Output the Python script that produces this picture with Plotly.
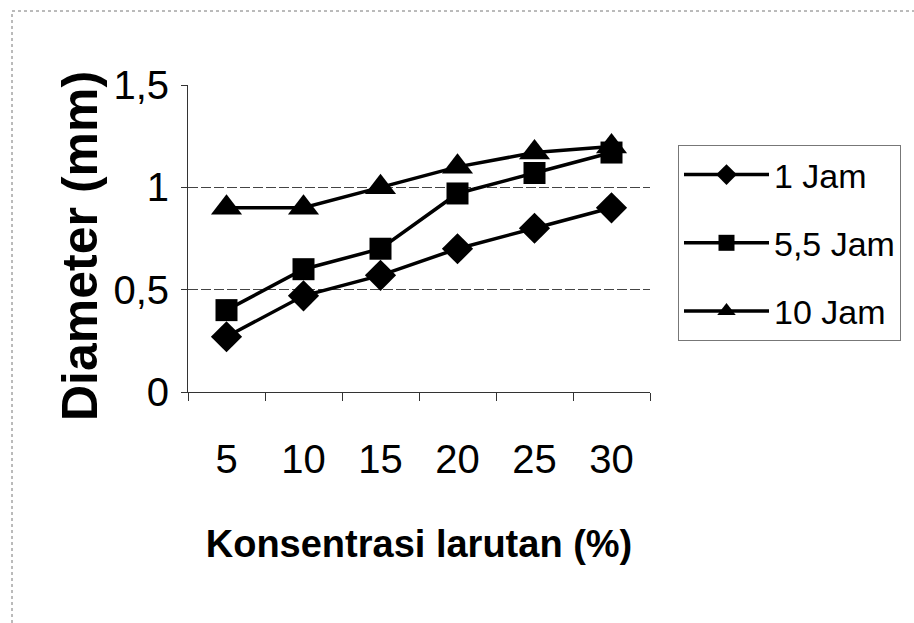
import plotly.graph_objects as go

categories = ["5", "10", "15", "20", "25", "30"]
jam1 = [0.27, 0.47, 0.57, 0.70, 0.80, 0.90]
jam55 = [0.40, 0.60, 0.70, 0.97, 1.07, 1.17]
jam10 = [0.90, 0.90, 1.00, 1.10, 1.17, 1.20]
series_names = ["1 Jam", "5,5 Jam", "10 Jam"]
y_ticks = [0, 0.5, 1, 1.5]
y_tick_labels = ["0", "0,5", "1", "1,5"]

FONT = "Liberation Sans, Arial, sans-serif"

fig = go.Figure()
specs = [(jam1, "diamond", 24), (jam55, "square", 22), (jam10, "triangle-up", 27)]
for i, ((vals, sym, sz), name) in enumerate(zip(specs, series_names)):
    fig.add_trace(go.Scatter(
        x=categories, y=vals, name=name, mode="lines+markers",
        line=dict(color="black", width=3.5),
        marker=dict(symbol=sym, size=sz, color="black"),
        legendgroup="g%d" % i,
    ))

L, R, T, B = 188, 264, 85, 231
W, H = 914, 623
pw, ph = W - L - R, H - T - B

fig.update_layout(
    width=W, height=H,
    margin=dict(l=L, r=R, t=T, b=B),
    paper_bgcolor="white", plot_bgcolor="white",
    showlegend=True,
    legend=dict(
        x=(678 - L) / pw, y=(392 - 145) / ph, xanchor="left", yanchor="top",
        font=dict(family=FONT, size=34, color="black"),
        bordercolor="#777", borderwidth=1,
        traceorder="grouped", tracegroupgap=21,
        itemwidth=85,
    ),
    xaxis=dict(
        type="category", range=[-0.5, 5.5],
        showline=True, linecolor="#333", linewidth=1,
        ticks="outside", ticklen=8, tickcolor="#333", tickson="boundaries",
        showgrid=False, zeroline=False,
        tickfont=dict(family=FONT, size=40, color="black"),
        ticklabelstandoff=32,
        title=dict(text="<b>Konsentrasi larutan (%)</b>",
                   font=dict(family=FONT, size=38, color="black"), standoff=50),
    ),
    yaxis=dict(
        range=[0, 1.5], tickvals=y_ticks, ticktext=y_tick_labels,
        showline=True, linecolor="#333", linewidth=1,
        ticks="outside", ticklen=6, tickcolor="#333",
        showgrid=True, gridcolor="#444", gridwidth=1, griddash="10px,3px",
        zeroline=False,
        tickfont=dict(family=FONT, size=40, color="black"),
        ticklabelstandoff=4,
    ),
)

# y axis title placed as annotation for precise position
fig.add_annotation(
    text="<b>Diameter (mm)</b>", textangle=-90, showarrow=False,
    xref="paper", yref="paper",
    x=(80 - L) / pw, y=(H - B - 246) / ph, xanchor="center", yanchor="middle",
    font=dict(family=FONT, size=50, color="black"),
)

# outer chart border (left and top only visible)
x0 = (12 - L) / pw
x1 = (W - L) / pw
ytop = (H - B - 11) / ph
ybot = (H - B - H) / ph
fig.add_shape(type="line", xref="paper", yref="paper", x0=x0, x1=x0, y0=ybot, y1=ytop,
              line=dict(color="#777", width=1, dash="dot"))
fig.add_shape(type="line", xref="paper", yref="paper", x0=x0, x1=x1, y0=ytop, y1=ytop,
              line=dict(color="#777", width=1, dash="dot"))

fig.write_html("out.html")
